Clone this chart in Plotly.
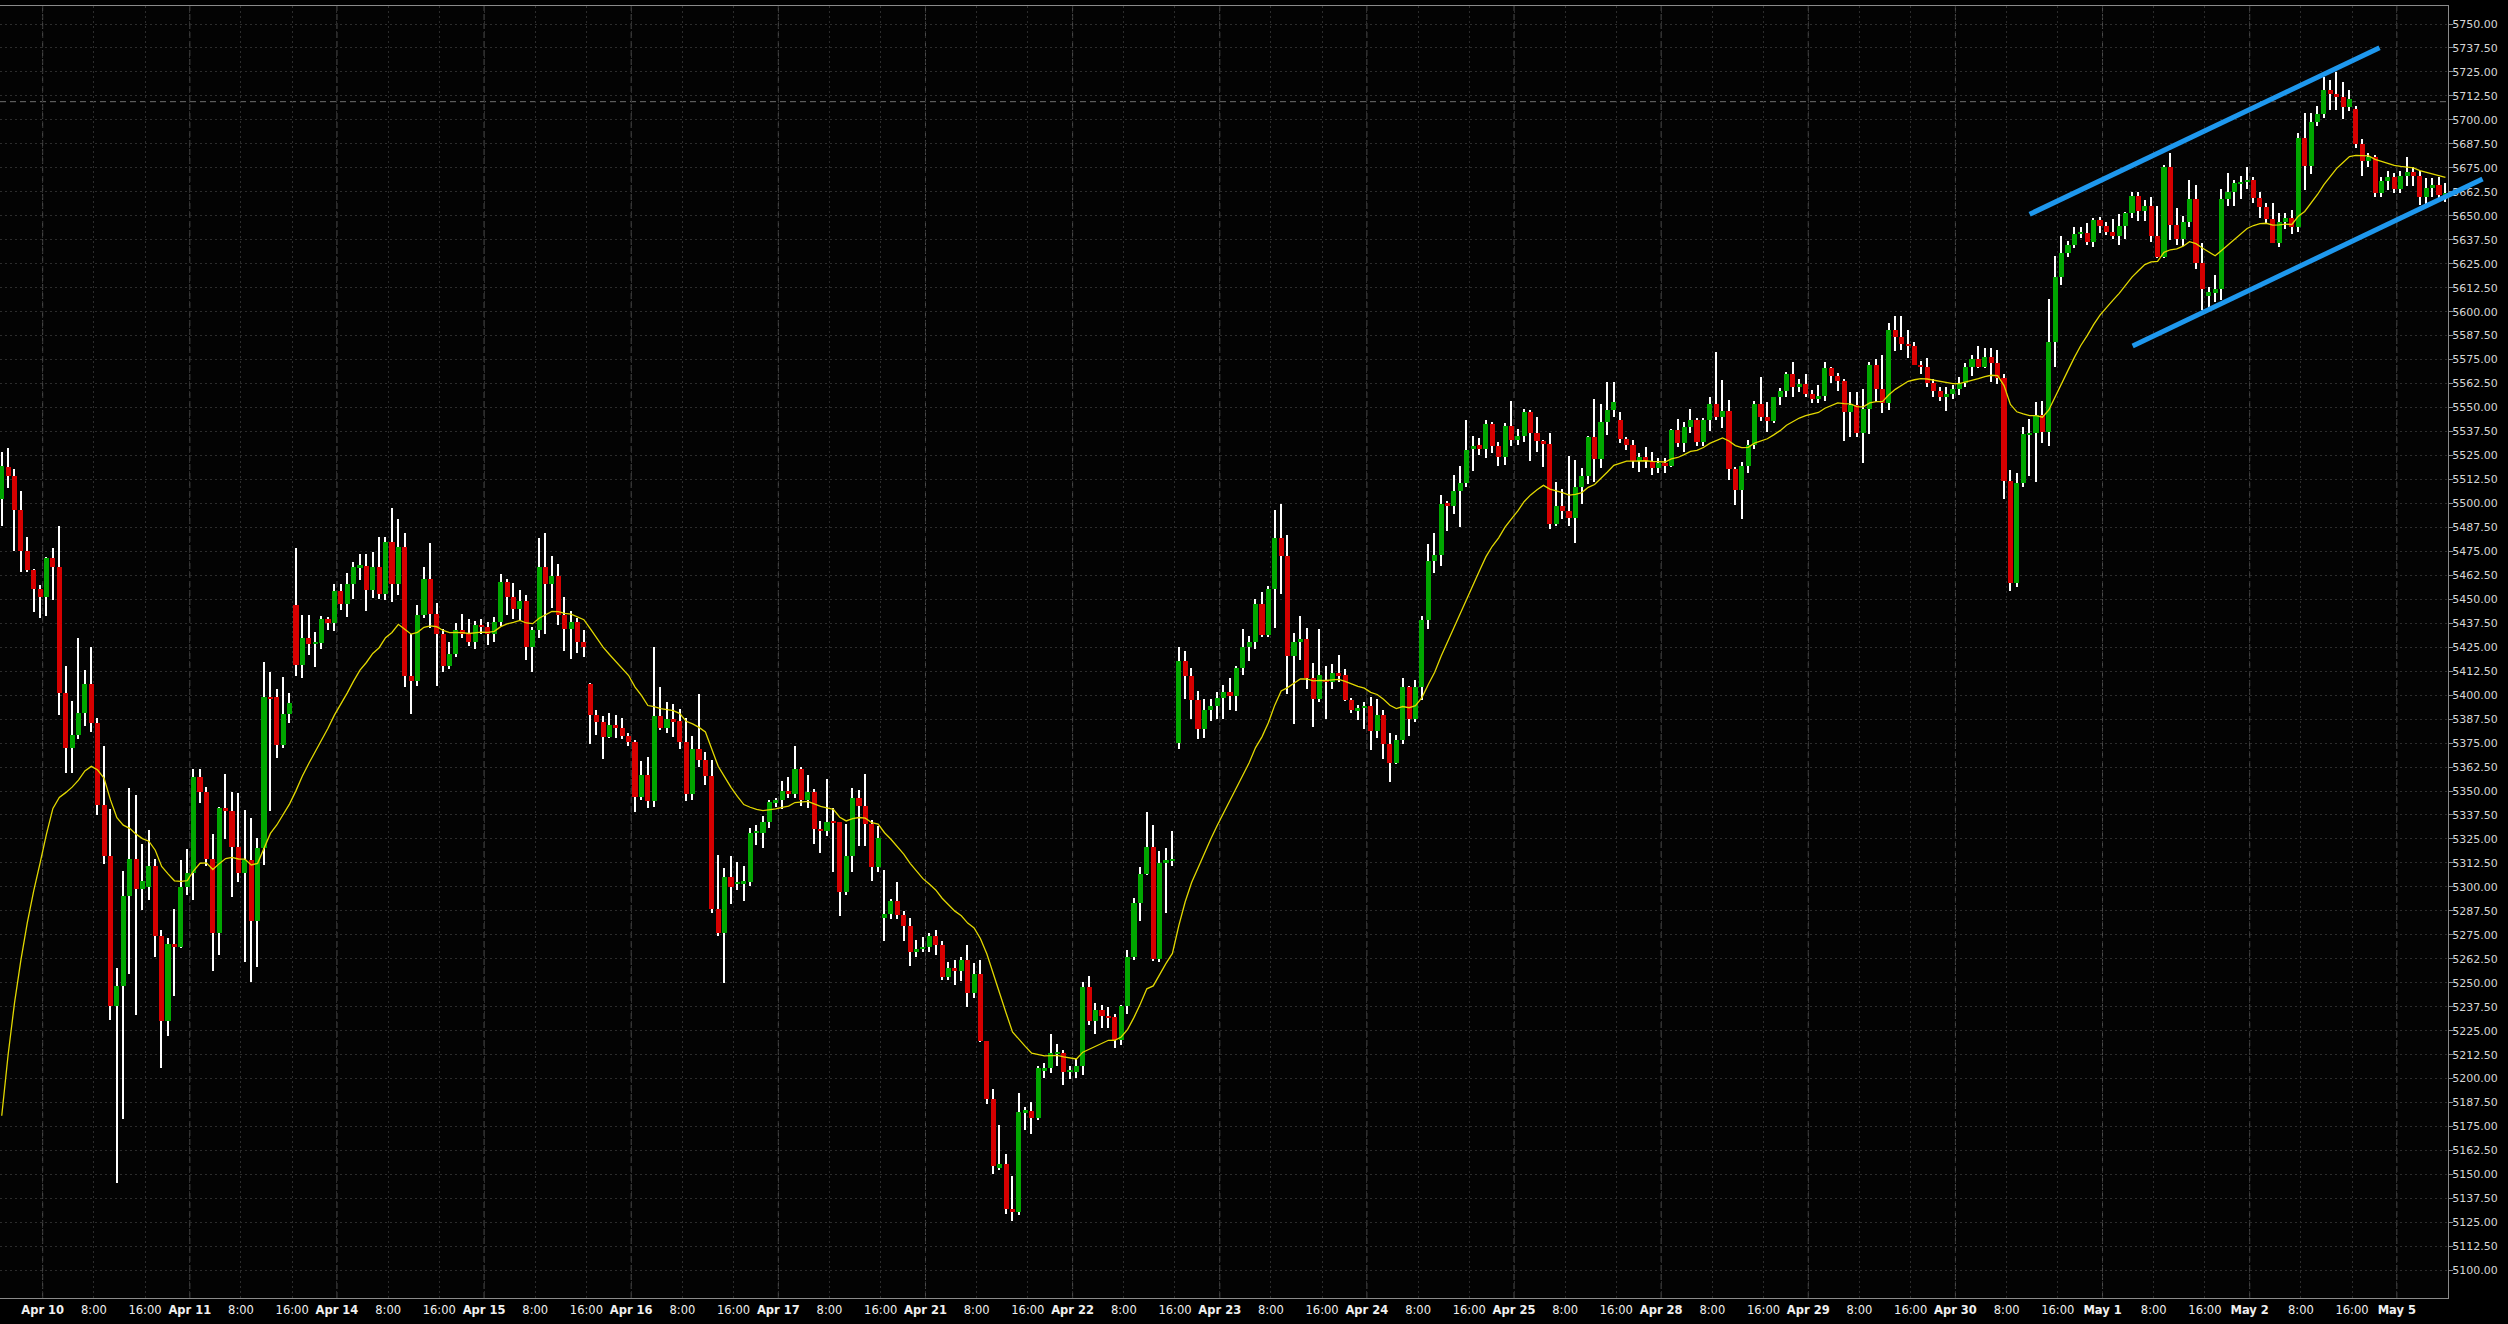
import plotly.graph_objects as go

# ---------------- data (hourly bars) ----------------
opens = [
5502.5,5519,5514.3,5496.6,5475.2,5465.3,5455.4,5451.4,5471.7,5467.0,
5401.3,5372.6,5379.2,5390.5,5405.8,5385.7,5342.8,5316.1,5237.8,5248.3,
5295.2,5314.5,5298.9,5300,5310.8,5274.5,5230.2,5270.2,5268.8,5299.7,
5307,5357.5,5349.7,5314.5,5276.1,5341.1,5339.7,5320.9,5307,5314,
5282.3,5320.2,5399,5398.9,5374,5390.2,5447,5415.7,5430,5426.7,
5427.4,5439.7,5437.5,5454.3,5447.5,5458,5466.8,5467.5,5454.8,5466.8,
5452.9,5479.9,5458.1,5477.3,5410.1,5407.5,5441.8,5460.6,5442.4,5431.9,
5415.2,5421.5,5434,5432.1,5427.5,5436.6,5435.5,5431.7,5438.1,5458.9,
5451.1,5445.1,5448.9,5425,5434,5466.8,5457.8,5461.9,5441.8,5434.5,
5438.1,5427.8,5405.7,5389.8,5386,5378.1,5384.4,5383.1,5378.7,5375.7,
5347,5358.4,5344.6,5388.9,5383.1,5387.4,5386.5,5375.7,5348.3,5372,
5366,5358,5288.7,5276.2,5305.1,5301.7,5302,5302.5,5328.2,5328.2,
5334,5344.2,5345.1,5349.8,5348.3,5361.3,5345.5,5349.4,5330.4,5329.3,
5333.8,5333.6,5297.1,5316.2,5346.4,5342.3,5332.8,5310.5,5284,5285.9,
5292.4,5285.3,5279.8,5266.3,5267.8,5268.6,5274.4,5269.7,5252.9,5257.8,
5256.1,5261.9,5244.9,5254.6,5219.4,5189.6,5153.5,5155.3,5132.2,5130.4,
5182.5,5182.9,5179.7,5204.2,5205.3,5213,5213.6,5203.6,5203.6,5206.4,
5247.7,5230,5235.6,5232.8,5231.9,5220.2,5237.9,5263.2,5291.5,5306.8,
5320.7,5262.6,5312.5,5313.8,5375,5418,5410,5397.7,5382.4,5392.2,
5394.3,5398.6,5401.7,5399.6,5414.1,5425.2,5427.5,5447.5,5431.5,5455.2,
5482.2,5472.6,5420.5,5427.9,5429.4,5408.8,5398.1,5407.7,5406.6,5411.3,
5410.5,5397.7,5392.2,5393.2,5394.3,5381.1,5389.6,5374.3,5364.7,5376.4,
5404.5,5387.5,5404.5,5439.2,5470.1,5473.1,5500.3,5498.6,5506.3,5510.5,
5528.4,5530.5,5528.4,5541.2,5530.1,5524.2,5540.3,5533.3,5535.4,5547.6,
5536.9,5532.7,5531,5489,5498.6,5496.1,5492.4,5508.4,5514.1,5534.8,
5523.3,5542.5,5548.7,5543.5,5533.6,5530.5,5522.1,5524.4,5522.1,5518.6,
5520.9,5519.5,5538.3,5531.3,5539.7,5543.5,5532.2,5543.5,5551.8,5545.2,
5548.2,5517.9,5507,5519.5,5530.4,5551.8,5545.2,5543.1,5555.3,5558.6,
5567.3,5560.9,5562.3,5557.1,5554.3,5556,5570.4,5566.4,5563.8,5547.8,
5551.3,5536.9,5549.2,5572.2,5559.6,5552.5,5590.4,5586.6,5583.1,5582.1,
5572.2,5571,5562.6,5558.6,5555.3,5557.1,5559.5,5562.6,5570.9,5575.1,
5570.9,5576.5,5573.4,5565.2,5511.7,5458.7,5510.8,5535.6,5536.9,5546.1,
5537.4,5584.4,5618.3,5630.4,5634.8,5640.5,5641.2,5636.5,5647.8,5644.7,
5641.7,5639.6,5644.7,5651.6,5660.3,5652.5,5655.1,5639.6,5628.7,5675.6,
5645.2,5637.7,5646.9,5658.6,5625.6,5608.4,5609.9,5611.6,5658.6,5662.2,
5666.9,5667.8,5668.7,5659.5,5654.8,5648.3,5636,5646.6,5648.7,5644,
5690.8,5676,5698.7,5703.1,5715.6,5713.5,5712.1,5706.6,5705.5,5687.6,
5678.7,5680.8,5662,5668.1,5670,5663.9,5670.7,5673,5670.7,5659.9,
5664.6,5666,5660.8]

highs = [
5527,5529,5518,5506.5,5482.3,5466,5457.5,5472.2,5476.6,5488.2,
5415.2,5397,5429.6,5413.1,5424.9,5388,5373.5,5340.4,5257.5,5308.4,
5351.5,5348,5322.3,5329.6,5314.8,5277.5,5273.1,5288.3,5314,5319.7,
5361.3,5361.3,5352,5327.5,5341.8,5358.9,5349.7,5349,5340,5335.7,
5325.3,5417.5,5412,5403,5409.6,5400.9,5476.9,5441.8,5441.8,5433.1,
5441.3,5441,5457.8,5458,5463.9,5469.6,5473.6,5473.6,5474.8,5482.7,
5482.7,5497.8,5491.9,5484.6,5432.1,5447,5466.6,5479.2,5447.9,5434.3,
5427.5,5437.7,5442.4,5439.6,5438.6,5439.6,5438.1,5440.5,5463.2,5460.6,
5458.7,5454.8,5452.2,5435.8,5482,5484.8,5472.7,5468.4,5451.1,5443.7,
5440,5434,5406.4,5392,5389.3,5390.8,5389.6,5388.3,5380,5376.6,
5365.4,5367.8,5425,5404.2,5396.3,5395.2,5393,5388.3,5378.7,5400.8,
5370.3,5366,5316.6,5310.1,5316.1,5312.9,5311,5330.6,5332.4,5337.1,
5345.5,5346.4,5355.2,5357.2,5373.4,5362.3,5358.6,5351.1,5334.3,5356.3,
5340.9,5333.8,5332.8,5351.7,5350.5,5359.1,5334.7,5331.5,5308.8,5293.9,
5302.5,5287.2,5284,5272.5,5273.8,5276,5277.5,5271.9,5260.8,5261.7,
5263.6,5269.7,5260.4,5261.7,5219.7,5194.6,5176,5160.6,5149,5192.4,
5185.3,5187.7,5206.4,5208.2,5223.5,5217.9,5215.1,5206.8,5210.5,5250.5,
5253.7,5239.3,5238.4,5237.5,5233.8,5238.4,5266.9,5294.3,5310.5,5339,
5332.5,5318.5,5320.4,5329.3,5425,5423,5414,5402.3,5398.1,5398.1,
5401.7,5405.2,5408.8,5415.2,5434.3,5430.9,5450.3,5453.9,5456.7,5496.7,
5499.9,5483.3,5432.6,5441.3,5434.9,5416.9,5434.3,5415.2,5416.2,5420.9,
5413.7,5398.6,5394.9,5396.4,5399.2,5398.1,5392.2,5380.5,5379,5409.2,
5404.9,5407.7,5441.1,5479,5484.8,5504.6,5501.4,5514.8,5519.5,5543.3,
5535.4,5534.3,5543.3,5542.2,5532.2,5541.8,5553.5,5539,5549.3,5548.8,
5545,5533.3,5536.5,5511,5507.7,5524.8,5522.7,5518.4,5535.4,5554.2,
5551.8,5563.5,5563.5,5547.7,5534.8,5533.1,5526.1,5529.6,5527,5523.5,
5523.5,5538.8,5543.8,5542.6,5549,5544.7,5544.4,5555.3,5579.1,5564.3,
5553.9,5519.1,5521.8,5533.1,5553.6,5565.7,5553,5555.7,5560,5568.7,
5573.7,5564.9,5567.3,5559.1,5561.7,5573.7,5571,5568.2,5564.9,5558.3,
5558.3,5559.6,5573.9,5575.1,5577.4,5593.9,5597.7,5597.7,5590.4,5584,
5574.4,5575.6,5564.9,5560.5,5560.9,5561.7,5565.7,5573,5577.4,5582.1,
5580.9,5580.9,5580,5567.5,5517.4,5516,5540,5543.8,5553,5553.4,
5606.4,5629.1,5639.5,5637,5644,5644.3,5646.1,5648.7,5649.5,5646.9,
5648.2,5650.9,5652.2,5662.2,5662.6,5658.2,5660,5655.1,5676.5,5682.6,
5653.9,5650,5668.7,5666,5636,5613,5619.1,5663.8,5672.5,5668.7,
5671,5675.6,5670.4,5662.6,5656.9,5656.9,5651.3,5651.3,5653,5693,
5703.4,5703.8,5707.3,5722.2,5720.8,5725.2,5719.6,5715.6,5707.3,5690,
5683,5681.6,5670.4,5673.4,5672.1,5673.5,5680.8,5675.6,5673.5,5669.5,
5669.5,5670.4,5667.2]

lows = [
5488,5508,5475,5464,5464.4,5443.5,5440.4,5441.5,5449.6,5389.8,
5359.2,5359.2,5377.1,5384.1,5381,5337.4,5312.2,5230.5,5145.7,5178.9,
5254.5,5233.1,5287.9,5293.1,5263.6,5205.8,5222.4,5243.2,5268.3,5295.7,
5293.1,5343.5,5310.7,5256.3,5264.4,5324.9,5294.9,5302.7,5261,5250.5,
5258.4,5311.4,5339.7,5367,5372.3,5385.7,5410.2,5409.1,5420.9,5414.9,
5424.1,5434,5433.5,5444.4,5441,5450,5460,5443.9,5450.5,5450,
5449.6,5448.8,5452,5404.2,5390.2,5404.7,5440,5434.9,5404.7,5412.2,
5413.5,5420,5429.9,5425.6,5424.3,5431.7,5426.1,5427.5,5436,5441.8,
5439.9,5438.6,5418.5,5412.2,5430,5432.1,5445.5,5436.4,5423.2,5419.1,
5422.2,5420,5374.4,5379,5366.5,5377.7,5377.7,5377.2,5373.4,5339.3,
5345.5,5341.4,5341.8,5381.8,5380,5378.1,5372.1,5345,5345.5,5362.3,
5353,5286.4,5274.3,5250.1,5291.1,5298.6,5292.4,5300.4,5321.8,5320.3,
5330.6,5341.8,5340.5,5346.4,5346.4,5342,5340.9,5322.2,5317.9,5326.5,
5307.9,5284.6,5295.8,5307.9,5321.3,5321.3,5303,5307.9,5271.9,5283.1,
5283.1,5271.9,5258.5,5263.5,5266,5266,5264.5,5251.4,5251.4,5249,
5251.1,5237.5,5242.1,5218.9,5186.8,5150.5,5152.3,5129.4,5125.7,5128.9,
5173.2,5171,5178.4,5200.2,5203,5206.7,5196.9,5199.8,5200.2,5202.1,
5228.2,5223.5,5226.3,5226.3,5216.1,5217.5,5233.8,5261.7,5282.2,5306.4,
5261.3,5260.8,5286.5,5311.1,5372,5398,5387.8,5377.2,5377.9,5386.4,
5387.5,5387.5,5392.2,5391.7,5410.5,5418,5424.3,5430.1,5430.1,5435,
5453,5400.7,5384.7,5418.3,5403,5383.2,5396.4,5387.5,5403.4,5406.6,
5397.1,5390.7,5387.1,5382.2,5371.5,5377.9,5366.8,5354.9,5364.1,5374.7,
5378.5,5385.8,5397.7,5434.7,5463.7,5467.3,5485.8,5494.3,5487.5,5508.8,
5516.9,5525.4,5523.7,5526.3,5519.5,5520.1,5529.7,5530.5,5532.2,5522.2,
5526.9,5519,5486.5,5488,5491.8,5488.2,5479.4,5499.7,5509.9,5511,
5518.4,5535.7,5545.2,5531.3,5527.8,5518.3,5516.5,5518.6,5514.8,5515.7,
5516,5519.1,5529.2,5527,5536.5,5530.1,5530,5537.9,5543.5,5539.1,
5512.2,5499.2,5491.9,5516,5528.2,5543.1,5537.4,5542.1,5551.3,5555.7,
5555.3,5557.9,5555.3,5552.2,5552.2,5553.6,5562.6,5558.8,5532.7,5534.8,
5534.4,5520.9,5536.2,5553,5547,5548.7,5579.6,5580,5575.6,5572.2,
5567.3,5560.5,5555.3,5553.4,5548.4,5554.3,5556.5,5560.5,5566.4,5570.4,
5570.6,5563.5,5562.3,5502.1,5454.5,5456.2,5508.7,5514.3,5511.3,5531.7,
5530,5571.3,5613.9,5628.3,5633.1,5638.3,5634.8,5633.9,5640.9,5640,
5637.7,5634.8,5637.7,5648.7,5647.5,5647.5,5636.2,5627.8,5627.8,5637.4,
5635,5634,5644.3,5622,5600.9,5601.2,5605.2,5606,5655,5655.3,
5659,5664,5656.9,5648.7,5646.1,5635.6,5633.6,5643,5640.5,5641.4,
5663.5,5671.7,5697,5701,5705.2,5705.2,5700.3,5704.8,5685.1,5671,
5675.5,5660,5660,5663.2,5662,5662,5665.5,5665.5,5655.6,5656.4,
5659.6,5658.5,5657.3]

closes = [
5519.5,5514.3,5496.6,5475.2,5465.3,5455.4,5451.4,5471.7,5467.0,5401.3,
5372.6,5379.2,5390.5,5405.8,5385.7,5342.8,5316.1,5237.8,5248.3,5295.2,
5314.5,5298.9,5303,5310.8,5274.5,5230.2,5270.2,5268.8,5299.7,5307,
5357.5,5349.7,5314.5,5276.1,5341.1,5339.7,5320.9,5307,5314,5282.3,
5320.2,5399,5398,5374,5390.2,5395.7,5415.7,5430,5426.7,5427.4,
5439.7,5437.5,5454.3,5447.5,5458,5466.8,5467.5,5454.8,5466.8,5452.9,
5479.9,5458.1,5477.3,5410.1,5407.5,5441.8,5460.6,5442.4,5431.9,5415.2,
5421.5,5434,5432.1,5427.5,5436.6,5435.5,5431.7,5438.1,5458.9,5451.1,
5445.1,5448.9,5425,5434,5466.8,5457.8,5461.9,5441.8,5434.5,5438.1,
5427.8,5425.2,5389.8,5386,5378.1,5384.4,5383.1,5378.7,5375.7,5347,
5358.4,5344.6,5388.9,5383.1,5387.4,5386.5,5375.7,5348.3,5372,5366,
5358,5288.7,5276.2,5305.1,5299.9,5302.5,5302.5,5328.2,5329.3,5334,
5344.2,5345.1,5349.8,5348.3,5361.3,5345.5,5349.4,5330.4,5329.3,5333.8,
5333.6,5297.1,5316.2,5346.4,5342.3,5332.8,5310.5,5325.6,5285.9,5292.4,
5285.3,5279.8,5266.3,5267.8,5268.6,5274.4,5269.7,5252.9,5257.8,5256.1,
5261.9,5244.9,5254.6,5219.4,5189.6,5154.2,5155.3,5132.2,5130.4,5182.5,
5182.9,5179.7,5205.3,5205.3,5213.3,5213.6,5203.6,5204.2,5206.4,5247.7,
5230,5235.6,5232.8,5231.9,5220.2,5237.9,5263.2,5291.5,5306.8,5320.7,
5262.6,5312.5,5313.8,5314.4,5418,5410,5397.7,5382.4,5392.2,5394.3,
5398.6,5401.7,5399.6,5414.1,5425.2,5427.5,5447.5,5431.5,5455.2,5482.2,
5472.6,5420.5,5427.9,5429.4,5408.8,5398.1,5410.3,5406.6,5411.3,5410.5,
5397.7,5392.2,5393.2,5394.3,5381.1,5389.6,5374.3,5364.7,5376.4,5404.5,
5387.5,5404.5,5439.2,5470.1,5473.1,5499.7,5498.6,5506.3,5510.5,5528,
5530.1,5528.4,5541.2,5530.1,5524.2,5540.3,5533.3,5535.4,5547.6,5536.9,
5532.7,5531,5489,5498.6,5496.1,5492.4,5508.4,5514.1,5534.8,5523.3,
5542.5,5548.7,5552.9,5533.6,5530.5,5522.1,5524.4,5522.1,5518.6,5520.9,
5519.5,5538.3,5531.3,5539.7,5543.5,5532.2,5543.5,5551.8,5545.2,5548.2,
5517.9,5507,5519.5,5530.4,5551.8,5545.2,5543.1,5555.3,5558.6,5567.3,
5560.9,5562.3,5557.1,5554.3,5556,5570.4,5566.4,5563.8,5547.8,5551.3,
5536.9,5549.2,5572.2,5559.6,5552.5,5590.4,5586.6,5583.1,5582.1,5572.2,
5571,5562.6,5558.6,5555.3,5557.1,5559.5,5562.6,5570.9,5575.1,5570.9,
5576.5,5573.4,5565.2,5511.7,5458.7,5510.8,5536.2,5536.9,5546.1,5537.4,
5584.4,5618.3,5630.4,5634.8,5640.5,5641.2,5636.5,5647.8,5644.7,5641.7,
5639.6,5644.7,5651.6,5660.3,5652.5,5655.1,5639.6,5628.7,5675.6,5645.2,
5637.7,5646.9,5658.6,5625.6,5611.6,5610.1,5611.6,5658.6,5662.2,5666.9,
5667.8,5668.7,5659.5,5654.8,5648.3,5636,5646.6,5648.7,5644,5690.8,
5676,5698.7,5703.1,5715.6,5713.5,5712.1,5706.6,5710.7,5687.6,5678.7,
5680.8,5662,5668.1,5670.2,5663.9,5670.7,5673,5670.7,5659.9,5664.6,
5666,5660.8,5660.8]

day_labels = ["Apr 10", "Apr 11", "Apr 14", "Apr 15", "Apr 16", "Apr 17",
              "Apr 21", "Apr 22", "Apr 23", "Apr 24", "Apr 25", "Apr 28",
              "Apr 29", "Apr 30", "May 1", "May 2", "May 5"]
hour_labels = ["8:00", "16:00"]
hour_offsets = [8, 16]          # bars after midnight
bars_per_session = 23
first_midnight = 6.4            # bar position of the "Apr 10" midnight line

ema_span = 20
ema_seed = 5145.0               # average level carried in from before the window

level_price = 5709.5            # dashed horizontal level
upper_channel = [(317.0, 5650.8), (371.7, 5737.6)]
lower_channel = [(333.1, 5582.1), (387.8, 5669.2)]

# ---------------- derived ----------------
n = len(closes)
xs = list(range(n))
UP, DN = "#00a600", "#d60000"
colors = [UP if c >= o else DN for o, c in zip(opens, closes)]
body_base = [min(o, c) for o, c in zip(opens, closes)]
body_h = [max(abs(c - o), 0.9) for o, c in zip(opens, closes)]
wick_h = [h - l for h, l in zip(highs, lows)]

alpha = 2.0 / (ema_span + 1)
ema, prev = [], ema_seed
for c in closes:
    prev = prev + alpha * (c - prev)
    ema.append(prev)

xr = [-0.27, 382.4]
yr = [5085.6, 5759.4]

tickvals, ticktext, day_pos = [], [], []
for d, lab in enumerate(day_labels):
    p = first_midnight + d * bars_per_session
    tickvals.append(p); ticktext.append("<b>" + lab + "</b>"); day_pos.append(p)
    for h, hl in zip(hour_offsets, hour_labels):
        q = p + h
        if q < xr[1] - 1:
            tickvals.append(q); ticktext.append(hl)

fig = go.Figure()
fig.add_trace(go.Bar(x=xs, base=lows, y=wick_h, width=0.22,
                     marker=dict(color="#ffffff", line=dict(width=0)),
                     hoverinfo="skip"))
fig.add_trace(go.Bar(x=xs, base=body_base, y=body_h, width=0.8,
                     marker=dict(color=colors, line=dict(width=0)),
                     hoverinfo="skip"))
fig.add_trace(go.Scatter(x=xs, y=ema, mode="lines",
                         line=dict(color="#e2d800", width=1.3),
                         hoverinfo="skip"))

shapes = []
for p in day_pos:
    shapes.append(dict(type="line", xref="x", yref="paper", x0=p, x1=p, y0=0, y1=1,
                       layer="below", line=dict(color="#4c4c4c", width=1, dash="6px,3px")))
shapes.append(dict(type="line", xref="paper", yref="y", x0=0, x1=1,
                   y0=level_price, y1=level_price, layer="below",
                   line=dict(color="#707070", width=1, dash="6px,4px")))


def to_px(pt):
    return ((pt[0] - xr[0]) / (xr[1] - xr[0]), (pt[1] - yr[0]) / (yr[1] - yr[0]))


for seg in (upper_channel, lower_channel):
    (a, b), (c, d) = to_px(seg[0]), to_px(seg[1])
    shapes.append(dict(type="line", xref="paper", yref="paper", x0=a, y0=b, x1=c, y1=d,
                       layer="above", line=dict(color="#1e98ee", width=5)))

font = "DejaVu Sans, Verdana, sans-serif"
fig.update_layout(
    width=2508, height=1324,
    margin=dict(l=0, r=60, t=6, b=26),
    paper_bgcolor="#000000", plot_bgcolor="#030303",
    showlegend=False, barmode="overlay", bargap=0,
    shapes=shapes,
    xaxis=dict(range=xr, tickmode="array", tickvals=tickvals, ticktext=ticktext,
               showgrid=True, gridcolor="#2c2c2c", griddash="2px,3px", gridwidth=1,
               zeroline=False, showline=True, linecolor="#8a8a8a", linewidth=1, mirror=True,
               ticks="", ticklabelstandoff=1,
               tickfont=dict(family=font, size=11.5, color="#f0f0f0")),
    yaxis=dict(range=yr, side="right", tickmode="array",
               tickvals=[5100 + 12.5 * k for k in range(53)],
               tickformat=".2f", showgrid=True, gridcolor="#2c2c2c", griddash="2px,3px",
               gridwidth=1, zeroline=False, showline=True, linecolor="#8a8a8a",
               linewidth=1, mirror=True, ticks="outside", ticklen=4, tickcolor="#8a8a8a",
               ticklabelstandoff=-3,
               tickfont=dict(family=font, size=11, color="#d6d6d6")),
)

fig.write_html("out.html", config={"displayModeBar": False},
               post_script="document.body.style.margin='0px';document.body.style.overflow='hidden';")
